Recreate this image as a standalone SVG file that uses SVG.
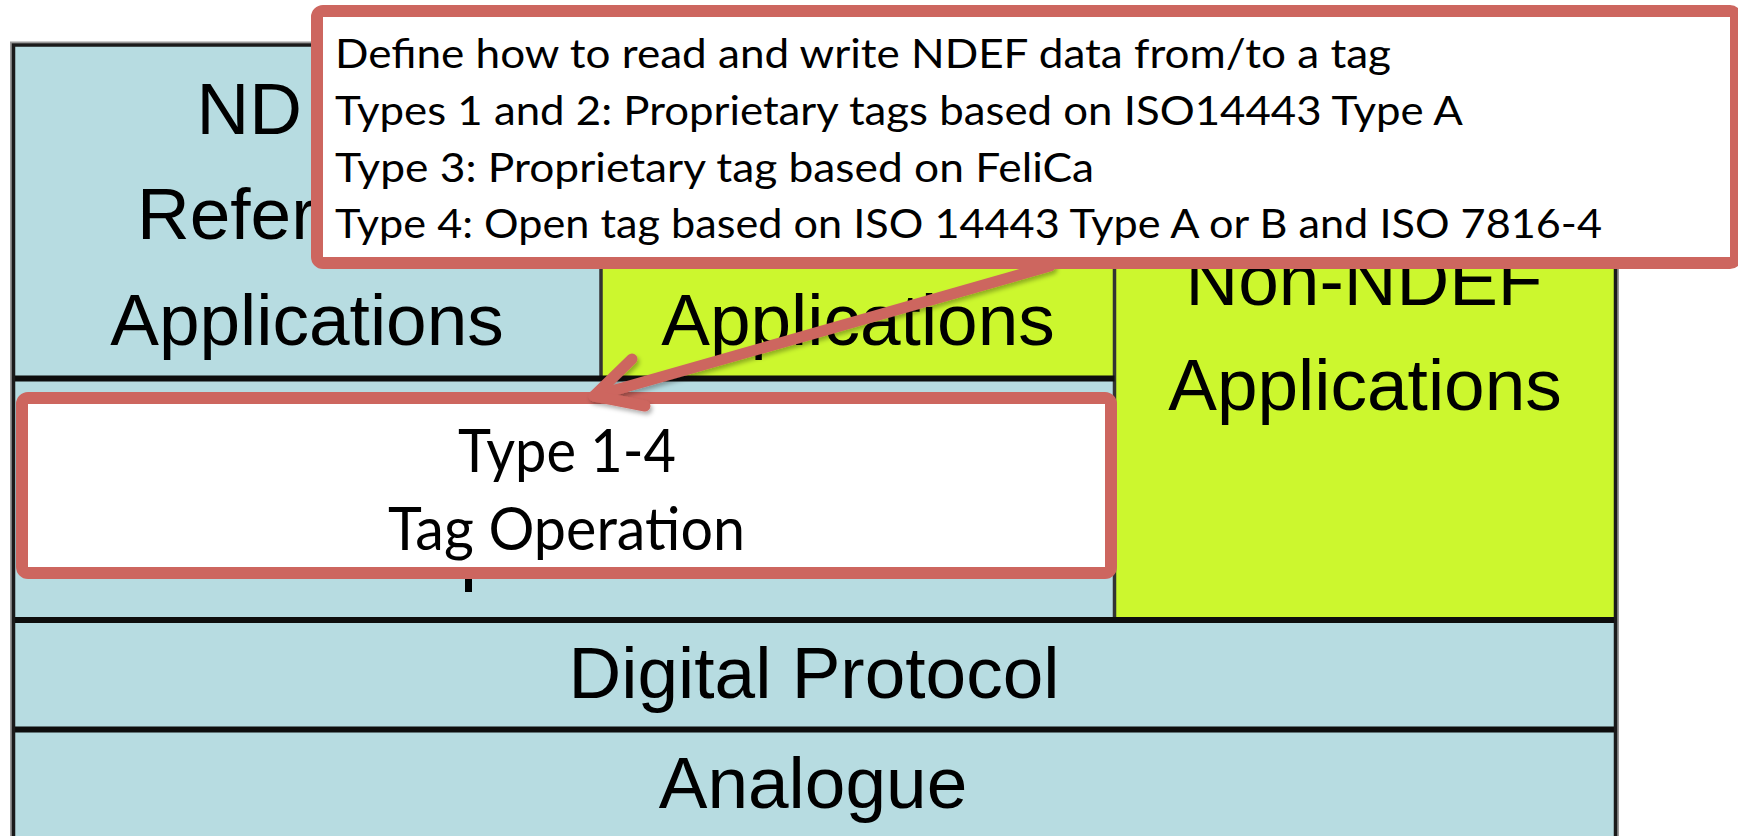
<svg xmlns="http://www.w3.org/2000/svg" width="1738" height="836" viewBox="0 0 1738 836">
<defs>
<style>
.blue{fill:#B7DCE1}
.yellow{fill:#CCF72E}
.hsep{stroke:#0d0d0d;stroke-width:6}
.vsep{stroke:#333;stroke-width:3.5}
.lbl{font-family:"Liberation Sans",Arial,sans-serif;font-size:73px;fill:#000;text-anchor:middle}
.lbl-s{font-family:"Liberation Sans",Arial,sans-serif;font-size:73px;fill:#000}
.cal{font-family:Lato,"Open Sans",sans-serif;fill:#000}
.redbox{fill:#fff;stroke:#CD665F;stroke-width:12}
.arrow{fill:none;stroke:#CD665F;stroke-width:11;stroke-linecap:round;stroke-linejoin:round}
</style>
<filter id="sh" x="-10%" y="-10%" width="130%" height="130%">
<feDropShadow dx="2" dy="3" stdDeviation="2" flood-color="#000" flood-opacity="0.3"/>
</filter>
</defs>

<rect width="1738" height="836" fill="#fff"/>

<g id="frame-shadow">
<rect x="11" y="42.5" width="1607" height="820" fill="none" stroke="#9a9a9a" stroke-width="2"/>
</g>

<g id="ndef-reference-apps">
<rect x="13.5" y="45" width="587.5" height="333" class="blue"/>
<text class="lbl-s" x="196.5" y="134">ND</text>
<text class="lbl-s" x="137" y="239">Refer</text>
<text class="lbl" x="307" y="345">Applications</text>
</g>

<g id="ndef-apps">
<rect x="601" y="45" width="513.5" height="333" class="yellow"/>
<text class="lbl" x="858" y="345">Applications</text>
</g>

<g id="non-ndef-apps">
<rect x="1114.5" y="45" width="501" height="575" class="yellow"/>
<text class="lbl" x="1364" y="305">Non-NDEF</text>
<text class="lbl" x="1365" y="410">Applications</text>
</g>

<g id="tag-layer">
<rect x="13.5" y="378" width="1101" height="242" class="blue"/>
<rect x="465" y="579" width="7" height="13" fill="#000"/>
</g>

<g id="digital-protocol">
<rect x="13.5" y="620" width="1602" height="110" class="blue"/>
<text class="lbl" x="814" y="698">Digital Protocol</text>
</g>

<g id="analogue">
<rect x="13.5" y="730" width="1602" height="120" class="blue"/>
<text class="lbl" x="813" y="808">Analogue</text>
</g>

<g id="frame-lines">
<line x1="601" y1="45" x2="601" y2="378" class="vsep"/>
<line x1="1114.5" y1="45" x2="1114.5" y2="620" class="vsep"/>
<line x1="13.5" y1="378.5" x2="1114.5" y2="378.5" class="hsep"/>
<line x1="13.5" y1="620" x2="1615.5" y2="620" class="hsep"/>
<line x1="13.5" y1="729.5" x2="1615.5" y2="729.5" class="hsep" stroke-width="7"/>
<rect x="13.5" y="45" width="1602" height="820" fill="none" stroke="#1a1a1a" stroke-width="3.5"/>
</g>

<g id="type-tag-operation">
<rect x="22" y="398" width="1089" height="175" rx="6" class="redbox"/>
<text class="cal" x="567" y="472" font-size="60" text-anchor="middle" textLength="218" lengthAdjust="spacingAndGlyphs">Type 1-4</text>
<text class="cal" x="566.5" y="550" font-size="60" text-anchor="middle" textLength="357" lengthAdjust="spacingAndGlyphs">Tag Operation</text>
</g>

<g id="connectors">
<g filter="url(#sh)">
<path class="arrow" d="M1050,266 L594,396"/>
<path class="arrow" d="M632,359 L594,396 L645,406"/>
</g>
</g>

<g id="callout">
<rect x="317" y="11" width="1419" height="252" rx="6" class="redbox"/>
<text class="cal" x="335" y="68" font-size="40" textLength="1056" lengthAdjust="spacingAndGlyphs">Define how to read and write NDEF data from/to a tag</text>
<text class="cal" x="335" y="125" font-size="40" textLength="1128" lengthAdjust="spacingAndGlyphs">Types 1 and 2: Proprietary tags based on ISO14443 Type A</text>
<text class="cal" x="335" y="181.5" font-size="40" textLength="759" lengthAdjust="spacingAndGlyphs">Type 3: Proprietary tag based on FeliCa</text>
<text class="cal" x="335" y="237.5" font-size="40" textLength="1267" lengthAdjust="spacingAndGlyphs">Type 4: Open tag based on ISO 14443 Type A or B and ISO 7816-4</text>
</g>
</svg>
